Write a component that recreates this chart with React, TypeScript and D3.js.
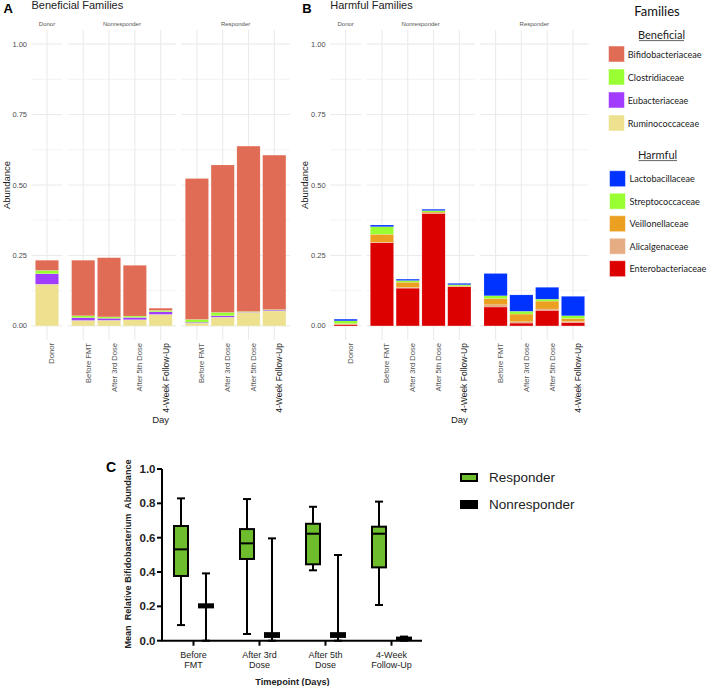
import React from "react";
import * as d3 from "d3";

// ---------- Data ----------
const groupNames = ["Donor", "Nonresponder", "Responder"];
const dayNames = ["Before FMT", "After 3rd Dose", "After 5th Dose", "4-Week Follow-Up"];
const barGroups = ["Donor", "Nonresponder", "Nonresponder", "Nonresponder", "Nonresponder", "Responder", "Responder", "Responder", "Responder"];
const barDays = ["Donor", ...dayNames, ...dayNames];

const beneficialFamilies = ["Bifidobacteriaceae", "Clostridiaceae", "Eubacteriaceae", "Ruminococcaceae"];
const beneficialColors = ["#E16C55", "#99FF33", "#A23DFF", "#EDE190"];
const bifidobacteriaceae = [0.036, 0.197, 0.21, 0.18, 0.008, 0.5, 0.523, 0.587, 0.548];
const clostridiaceae = [0.012, 0.007, 0.005, 0.005, 0.005, 0.01, 0.012, 0.002, 0.002];
const eubacteriaceae = [0.037, 0.0095, 0.007, 0.008, 0.009, 0.003, 0.005, 0.001, 0.003];
const ruminococcaceae = [0.148, 0.0195, 0.02, 0.022, 0.041, 0.01, 0.031, 0.048, 0.053];

const harmfulFamilies = ["Lactobacillaceae", "Streptococcaceae", "Veillonellaceae", "Alicalgenaceae", "Enterobacteriaceae"];
const harmfulColors = ["#0033FF", "#99FF33", "#EBA022", "#E6AD84", "#DD0000"];
const lactobacillaceae = [0.006, 0.006, 0.005, 0.005, 0.005, 0.079, 0.058, 0.042, 0.069];
const streptococcaceae = [0.01, 0.027, 0.006, 0.005, 0.004, 0.01, 0.01, 0.007, 0.01];
const veillonellaceae = [0.002, 0.028, 0.018, 0.004, 0.002, 0.022, 0.027, 0.028, 0.01];
const alicalgenaceae = [0.001, 0.002, 0.003, 0.001, 0.001, 0.008, 0.005, 0.005, 0.004];
const enterobacteriaceae = [0.005, 0.295, 0.134, 0.399, 0.139, 0.067, 0.01, 0.055, 0.012];

const abundanceTicks = [0, 0.25, 0.5, 0.75, 1];
const abundanceMinor = [0.125, 0.375, 0.625, 0.875];

// Panel C box plots
const timepoints = ["Before FMT", "After 3rd Dose", "After 5th Dose", "4-Week Follow-Up"];
const timepointLines = [["Before", "FMT"], ["After 3rd", "Dose"], ["After 5th", "Dose"], ["4-Week", "Follow-Up"]];
const respMin = [0.091, 0.039, 0.41, 0.208];
const respQ1 = [0.377, 0.476, 0.445, 0.427];
const respMed = [0.532, 0.567, 0.623, 0.623];
const respQ3 = [0.668, 0.65, 0.681, 0.664];
const respMax = [0.829, 0.825, 0.78, 0.81];
const nonMin = [0, 0, 0, 0];
const nonQ1 = [0.194, 0.022, 0.022, 0.004];
const nonMed = [0.203, 0.032, 0.032, 0.01];
const nonQ3 = [0.212, 0.044, 0.044, 0.018];
const nonMax = [0.392, 0.596, 0.499, 0.024];
const cTicks = [0, 0.2, 0.4, 0.6, 0.8, 1.0];
const boxGroups = ["Responder", "Nonresponder"];
const boxColors = ["#6DBD2D", "#000000"];

// ---------- Layout ----------
const SANS = "'Liberation Sans', Arial, Helvetica, sans-serif";
const LEG = "Lato, 'Open Sans', sans-serif";
const UNIT = 25.8;
const GAP = 5.3;
const PANEL_TOP = 30;
const PANEL_BOTTOM = 340;

type PanelProps = {
  left: number;
  letter: string;
  title: string;
  families: string[];
  colors: string[];
  values: number[][];
};

function BarPanel({ left, letter, title, families, colors, values }: PanelProps) {
  const y = d3.scaleLinear().domain([-0.05, 1.05]).range([PANEL_BOTTOM, PANEL_TOP]);
  let cursor = left;
  const facets = groupNames.map((g) => {
    const cats = barDays.filter((_, i) => barGroups[i] === g);
    const width = (cats.length + 0.2) * UNIT;
    const scale = d3.scaleBand<string>().domain(cats).range([cursor, cursor + width]).paddingInner(0.1).paddingOuter(0.15);
    const f = { group: g, scale, x0: cursor, x1: cursor + width };
    cursor += width + GAP;
    return f;
  });
  const right = cursor - GAP;
  const facetOf = (g: string) => facets.find((f) => f.group === g)!;

  const rows = barDays.map((d, i) => {
    const r: any = { day: d, group: barGroups[i] };
    families.forEach((f, k) => (r[f] = values[k][i]));
    return r;
  });
  const keys = [...families].reverse();
  const stacked = d3.stack<any>().keys(keys)(rows);
  const colorOf = d3.scaleOrdinal<string, string>().domain(families).range(colors);

  return (
    <g>
      <text x={left - 28} y={12.7} fontFamily={SANS} fontWeight="bold" fontSize={13} fill="#000">{letter}</text>
      <text x={left} y={9.3} fontFamily={SANS} fontSize={11} fill="#222">{title}</text>
      {facets.map((f) => (
        <g key={f.group}>
          {abundanceMinor.map((t) => (
            <line key={"m" + t} x1={f.x0} x2={f.x1} y1={y(t)} y2={y(t)} stroke="#F0F0F0" strokeWidth={0.8} />
          ))}
          {abundanceTicks.map((t) => (
            <line key={"M" + t} x1={f.x0} x2={f.x1} y1={y(t)} y2={y(t)} stroke="#EBEBEB" strokeWidth={1.1} />
          ))}
          {f.scale.domain().map((c) => (
            <line key={c} x1={f.scale(c)! + f.scale.bandwidth() / 2} x2={f.scale(c)! + f.scale.bandwidth() / 2} y1={PANEL_TOP} y2={PANEL_BOTTOM} stroke="#EBEBEB" strokeWidth={1.1} />
          ))}
          <text x={(f.x0 + f.x1) / 2} y={24} textAnchor="middle" dominantBaseline="central" fontFamily={SANS} fontSize={6} fill="#555">{f.group}</text>
        </g>
      ))}
      {stacked.map((layer) => (
        <g key={layer.key} fill={colorOf(layer.key)}>
          {layer.map((d, i) => {
            const f = facetOf(d.data.group);
            return (
              <rect key={i} x={f.scale(d.data.day)!} width={f.scale.bandwidth()} y={y(d[1])} height={Math.max(0, y(d[0]) - y(d[1]))} stroke="#ffffff" strokeOpacity={0.35} strokeWidth={0.4} />
            );
          })}
        </g>
      ))}
      {abundanceTicks.map((t) => (
        <text key={t} x={left - 4.5} y={y(t)} textAnchor="end" dominantBaseline="central" fontFamily={SANS} fontSize={7.5} fill="#4D4D4D">{d3.format(".2f")(t)}</text>
      ))}
      <text transform={`translate(${left - 25.5},${y(0.5)}) rotate(-90)`} textAnchor="middle" dominantBaseline="central" fontFamily={SANS} fontSize={9.5} fill="#222">Abundance</text>
      {barDays.map((d, i) => {
        const f = facetOf(barGroups[i]);
        const cx = f.scale(d)! + f.scale.bandwidth() / 2 + 5;
        const big = d === "4-Week Follow-Up";
        return (
          <text key={i} transform={`translate(${cx},343) rotate(-90)`} textAnchor="end" dominantBaseline="central" fontFamily={SANS} fontSize={big ? 8.5 : 7.6} fill={big ? "#1A1A1A" : "#555"}>{d}</text>
        );
      })}
      <text x={(left + right) / 2} y={423} textAnchor="middle" fontFamily={SANS} fontSize={9.5} fill="#222">Day</text>
    </g>
  );
}

function FamilyLegend() {
  const benY = d3.scalePoint<string>().domain(beneficialFamilies).range([54, 123]);
  const harmY = d3.scalePoint<string>().domain(harmfulFamilies).range([178.7, 268.7]);
  return (
    <g fontFamily={LEG}>
      <text x={657} y={16} textAnchor="middle" fontSize={13} fill="#111">Families</text>
      <text x={661.5} y={39.2} textAnchor="middle" fontSize={11} fill="#222">Beneficial</text>
      <line x1={639} x2={684} y1={40.6} y2={40.6} stroke="#222" strokeWidth={0.7} />
      {beneficialFamilies.map((f, i) => (
        <g key={f}>
          <rect x={608.5} y={benY(f)! - 8} width={16} height={16} fill={beneficialColors[i]} stroke="#ffffff" strokeOpacity={0.5} strokeWidth={1} />
          <text x={627.8} y={benY(f)!} dominantBaseline="central" fontSize={9.1} fill="#222">{f}</text>
        </g>
      ))}
      <text x={657.5} y={159} textAnchor="middle" fontSize={11} fill="#222">Harmful</text>
      <line x1={638.5} x2={677} y1={160.6} y2={160.6} stroke="#222" strokeWidth={0.7} />
      {harmfulFamilies.map((f, i) => (
        <g key={f}>
          <rect x={609.5} y={harmY(f)! - 8} width={16} height={16} fill={harmfulColors[i]} stroke="#ffffff" strokeOpacity={0.5} strokeWidth={1} />
          <text x={629.5} y={harmY(f)!} dominantBaseline="central" fontSize={9.1} fill="#222">{f}</text>
        </g>
      ))}
    </g>
  );
}

function BoxPanel() {
  const y = d3.scaleLinear().domain([0, 1]).range([640.7, 469]);
  const x = d3.scalePoint<string>().domain(timepoints).range([193.5, 391.5]);
  const offset = d3.scalePoint<string>().domain(boxGroups).range([-12.5, 12.5]);
  const axisX0 = 162;
  const axisX1 = 422;
  const boxW = 14;
  const capW = 8;
  const series = [
    { name: "Responder", min: respMin, q1: respQ1, med: respMed, q3: respQ3, max: respMax, fill: boxColors[0] },
    { name: "Nonresponder", min: nonMin, q1: nonQ1, med: nonMed, q3: nonQ3, max: nonMax, fill: boxColors[1] },
  ];
  return (
    <g>
      <text x={106} y={472} fontFamily={SANS} fontWeight="bold" fontSize={14} fill="#000">C</text>
      {series.map((s) => (
        <g key={s.name}>
          {timepoints.map((t, i) => {
            const cx = x(t)! + offset(s.name)!;
            return (
              <g key={t} stroke="#000" strokeWidth={2}>
                <line x1={cx} x2={cx} y1={y(s.max[i])} y2={y(s.min[i])} />
                <line x1={cx - capW / 2} x2={cx + capW / 2} y1={y(s.max[i])} y2={y(s.max[i])} />
                <line x1={cx - capW / 2} x2={cx + capW / 2} y1={y(s.min[i])} y2={y(s.min[i])} />
                <rect x={cx - boxW / 2} width={boxW} y={y(s.q3[i])} height={y(s.q1[i]) - y(s.q3[i])} fill={s.fill} />
                <line x1={cx - boxW / 2} x2={cx + boxW / 2} y1={y(s.med[i])} y2={y(s.med[i])} />
              </g>
            );
          })}
        </g>
      ))}
      <line x1={axisX0} x2={axisX0} y1={y(1)} y2={y(0)} stroke="#000" strokeWidth={2} />
      <line x1={axisX0 - 1} x2={axisX1} y1={y(0)} y2={y(0)} stroke="#000" strokeWidth={2} />
      {cTicks.map((t) => (
        <g key={t}>
          <line x1={axisX0 - 5} x2={axisX0} y1={y(t)} y2={y(t)} stroke="#000" strokeWidth={2} />
          <text x={155.5} y={y(t)} textAnchor="end" dominantBaseline="central" fontFamily={SANS} fontWeight="bold" fontSize={11.5} fill="#222">{d3.format(".1f")(t)}</text>
        </g>
      ))}
      {timepoints.map((t, i) => (
        <g key={t}>
          <line x1={x(t)!} x2={x(t)!} y1={y(0)} y2={y(0) + 5} stroke="#000" strokeWidth={2} />
          {timepointLines[i].map((ln, j) => (
            <text key={j} x={x(t)!} y={657.6 + j * 10} textAnchor="middle" fontFamily={SANS} fontSize={9} fill="#222">{ln}</text>
          ))}
        </g>
      ))}
      <text x={292.5} y={684.5} textAnchor="middle" fontFamily={SANS} fontWeight="bold" fontSize={9.2} fill="#222">Timepoint (Days)</text>
      <text transform={`translate(127.5,554) rotate(-90)`} textAnchor="middle" dominantBaseline="central" fontFamily={SANS} fontWeight="bold" fontSize={9.1} fill="#222" style={{ whiteSpace: "pre" }}>{"Mean  Relative Bifidobacterium  Abundance"}</text>
      {boxGroups.map((g, i) => (
        <g key={g}>
          <rect x={461} y={474 + i * 27} width={16} height={7} fill={boxColors[i]} stroke="#000" strokeWidth={2} />
          <text x={489} y={477.5 + i * 27} dominantBaseline="central" fontFamily={SANS} fontSize={13.5} fill="#222">{g}</text>
        </g>
      ))}
    </g>
  );
}

export default function App() {
  return (
    <svg width={709} height={686} viewBox="0 0 709 686" style={{ position: "absolute", left: 0, top: 0, background: "#fff" }}>
      <rect x={0} y={0} width={709} height={686} fill="#fff" />
      <BarPanel left={31.5} letter="A" title="Beneficial Families" families={beneficialFamilies} colors={beneficialColors} values={[bifidobacteriaceae, clostridiaceae, eubacteriaceae, ruminococcaceae]} />
      <BarPanel left={330.2} letter="B" title="Harmful Families" families={harmfulFamilies} colors={harmfulColors} values={[lactobacillaceae, streptococcaceae, veillonellaceae, alicalgenaceae, enterobacteriaceae]} />
      <FamilyLegend />
      <BoxPanel />
    </svg>
  );
}
